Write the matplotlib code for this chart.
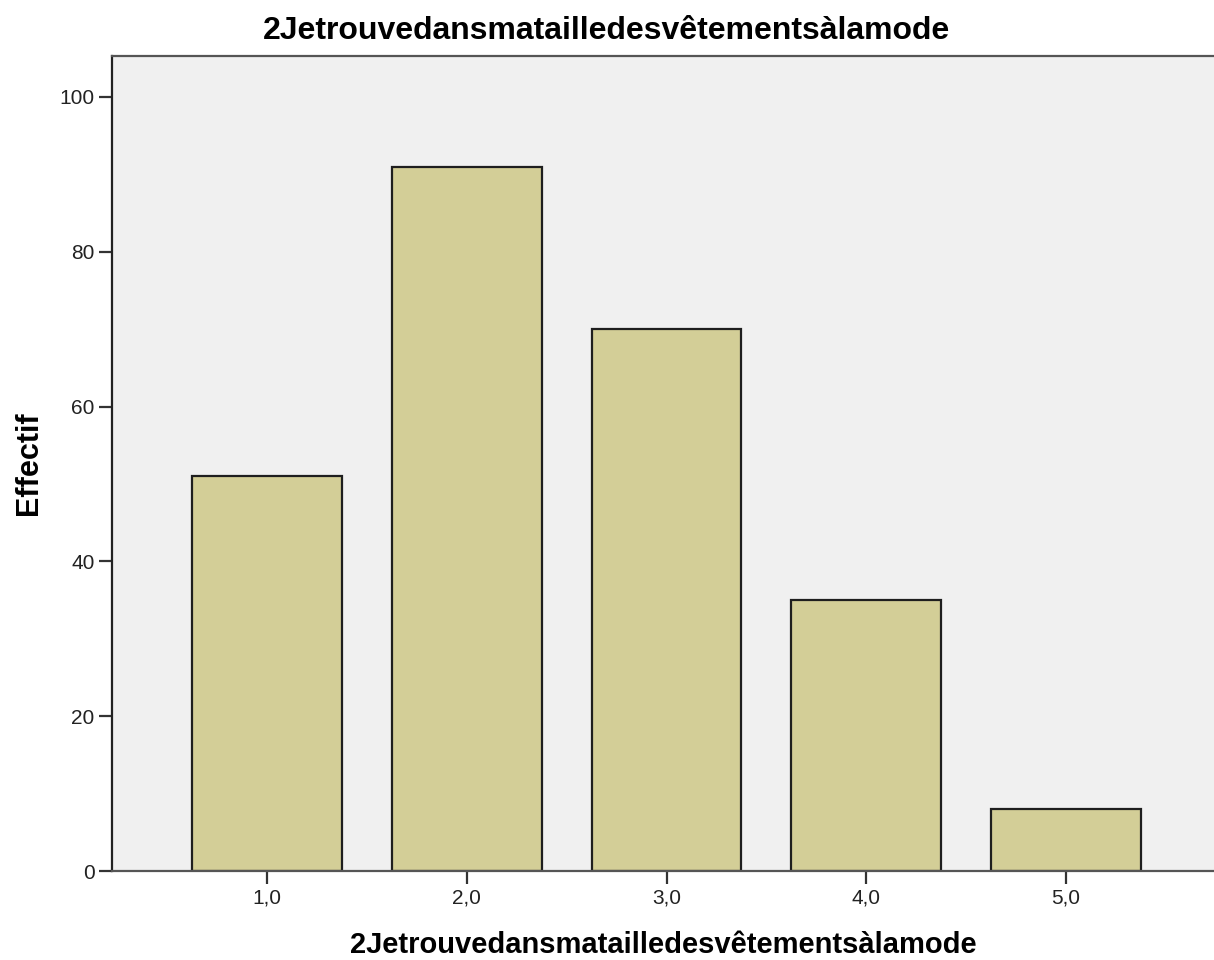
import numpy as np
import matplotlib.pyplot as plt

plt.rcParams['font.family'] = ['Liberation Sans', 'DejaVu Sans']

categories = [1.0, 2.0, 3.0, 4.0, 5.0]
tick_labels = ['1,0', '2,0', '3,0', '4,0', '5,0']
counts = [51, 91, 70, 35, 8]
title = '2Jetrouvedansmatailledesvêtementsàlamode'

fig = plt.figure(figsize=(12.14, 9.6), dpi=100)
ax = fig.add_axes([0.0923, 0.0927, 0.9077, 0.849])
ax.set_facecolor('#f0f0f0')

ax.bar(categories, counts, width=0.75, color='#d3ce97', edgecolor='#1e1e1e', linewidth=1.6, zorder=2)

ax.set_xlim(0.225, 5.74)
ax.set_ylim(0, 105.3)
ax.set_xticks(categories)
ax.set_xticklabels(tick_labels)
ax.set_yticks([0, 20, 40, 60, 80, 100])
ax.tick_params(axis='both', labelsize=15, color='#333333', labelcolor='#222222',
               length=9.5, width=1.6, pad=3)

for side in ['left', 'top', 'bottom']:
    ax.spines[side].set_color('#555555')
    ax.spines[side].set_linewidth(1.6)
ax.spines['left'].set_color('#222222')
ax.spines['right'].set_visible(False)

# title is centred on the whole figure, the x label on the axes
fig.suptitle(title, x=0.5, y=0.968, va='center', fontsize=23, fontweight='bold')
ax.set_xlabel(title, fontsize=21, fontweight='bold', labelpad=17)
ax.set_ylabel('Effectif', fontsize=22, fontweight='bold', labelpad=11)

fig.savefig('out.png', dpi=100)
